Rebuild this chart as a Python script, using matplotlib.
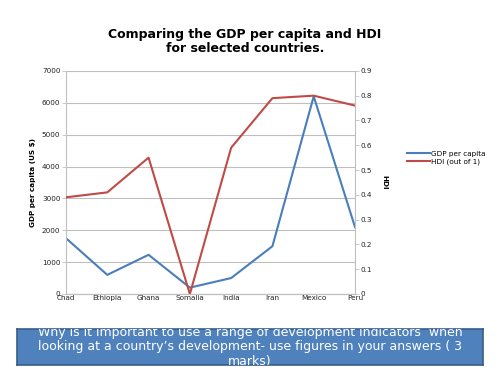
import matplotlib

matplotlib.use("Agg")
import matplotlib.pyplot as plt
import numpy as np

countries = ["Chad", "Ethiopia", "Ghana", "Somalia", "India", "Iran", "Mexico", "Peru"]
gdp_per_capita = [1750, 600, 1230, 200, 500, 1500, 6200, 2100]
hdi = [0.39, 0.41, 0.55, 0.0, 0.59, 0.79, 0.80, 0.76]

blue = "#4A7EBB"
red = "#BE4B48"

fig = plt.figure(figsize=(5, 3.75), dpi=100)
ax = fig.add_axes([0.132, 0.216, 0.578, 0.595])
ax2 = ax.twinx()

x = np.arange(len(countries))
l1, = ax.plot(x, gdp_per_capita, color=blue, linewidth=1.5, label="GDP per capita")
l2, = ax2.plot(x, hdi, color=red, linewidth=1.5, label="HDI (out of 1)")

ax.set_xlim(0, len(countries) - 1)
ax.set_ylim(0, 7000)
ax.set_yticks(np.arange(0, 7001, 1000))
ax2.set_ylim(0, 0.9)
ax2.set_yticks(np.arange(0, 0.91, 0.1))
ax2.set_yticklabels(["0"] + [f"{v:.1f}" for v in np.arange(0.1, 0.91, 0.1)])
ax.set_xticks(x)
ax.set_xticklabels(countries)

ax.grid(True, axis="y", color="#BFBFBF", linewidth=0.8)
for a in (ax, ax2):
    for side in ("top", "right", "left"):
        a.spines[side].set_visible(False)
    a.spines["bottom"].set_color("#BFBFBF")
    a.tick_params(labelsize=5.2, length=3, width=0.6, color="#BFBFBF", pad=1,
                  labelcolor="#222222")
ax.spines["left"].set_visible(True)
ax.spines["left"].set_color("#BFBFBF")
ax2.spines["right"].set_visible(True)
ax2.spines["right"].set_color("#BFBFBF")
ax.tick_params(axis="x", length=0, pad=0.5)

ax.set_ylabel("GDP per capita (US $)", fontsize=5.2, fontweight="bold", labelpad=4)
ax2.set_ylabel("HDI", fontsize=5.2, fontweight="bold", rotation=270, labelpad=11)

fig.text(0.49, 0.89, "Comparing the GDP per capita and HDI\nfor selected countries.",
         ha="center", va="center", fontsize=9, fontweight="bold", linespacing=1.1)

fig.legend(handles=[l1, l2], loc="center left", bbox_to_anchor=(0.806, 0.579),
           frameon=False, fontsize=5.2, handlelength=3.2, labelspacing=0.3,
           borderpad=0, handletextpad=0.2)

box = fig.add_axes([0.034, 0.027, 0.932, 0.096])
box.set_facecolor("#4F81BD")
box.set_xticks([])
box.set_yticks([])
for s in box.spines.values():
    s.set_color("#385D8A")
    s.set_linewidth(1.2)
box.text(0.5, 0.5,
         "Why is it important to use a range of development indicators  when\n"
         "looking at a country\u2019s development- use figures in your answers ( 3\n"
         "marks)",
         ha="center", va="center", color="white", fontsize=9, linespacing=1.15,
         transform=box.transAxes, clip_on=True)

fig.savefig("out.png")
